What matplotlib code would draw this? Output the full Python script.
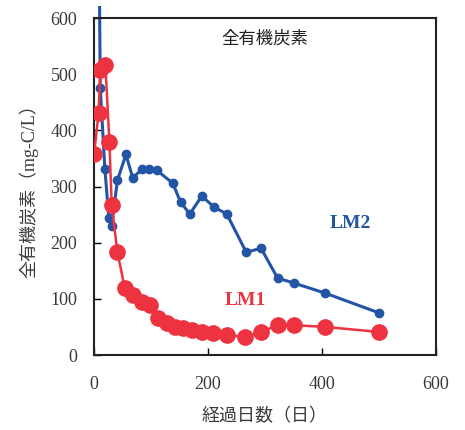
import matplotlib
matplotlib.use("Agg")
import matplotlib.pyplot as plt
from matplotlib.patches import Rectangle

# LM1 (red)
lm1_days = [0, 8, 11, 20, 27, 31, 41, 54, 68, 84, 98, 112, 128, 142, 156, 172, 189, 209, 233, 265, 293, 322, 351, 406, 500]
lm1_toc = [357, 430, 507, 516, 379, 267, 183, 119, 107, 94, 89, 66, 57, 50, 48, 44, 41, 39, 36, 32, 41, 53, 53, 50, 41]

# LM2 (blue)
lm2_days = [9, 11, 19, 26, 31, 41, 56, 68, 84, 96, 110, 138, 152, 168, 189, 211, 233, 267, 293, 322, 351, 406, 500]
lm2_toc = [700, 475, 332, 244, 229, 311, 357, 315, 331, 332, 329, 306, 272, 251, 283, 263, 251, 183, 190, 137, 128, 110, 75]

x_ticks = [0, 200, 400, 600]
y_ticks = [0, 100, 200, 300, 400, 500, 600]

serif = ['Liberation Serif', 'Noto Sans CJK JP']
cjk = ['Noto Sans CJK JP', 'Liberation Serif']

fig = plt.figure(figsize=(4.65, 4.30), dpi=100)
ax = fig.add_axes([0.2022, 0.1744, 0.7355, 0.7837])

red = '#EE3340'
blue = '#2354A6'
txt = '#3a3a3a'

clip = Rectangle((0, 0), 1, 1.035, transform=ax.transAxes, facecolor='none', edgecolor='none')
ax.add_patch(clip)

lb, = ax.plot(lm2_days, lm2_toc, color=blue, lw=2.2, marker='o', ms=6, zorder=2)
lb.set_clip_path(clip)
lr, = ax.plot(lm1_days, lm1_toc, color=red, lw=1.8, marker='o', ms=11, zorder=3)

ax.set_xlim(0, 600)
ax.set_ylim(0, 600)
ax.set_xticks(x_ticks)
ax.set_yticks(y_ticks)
ax.tick_params(direction='in', length=5, width=1, labelsize=13)
ax.tick_params(axis='y', pad=12)
ax.tick_params(axis='x', pad=15)
for lab in ax.get_xticklabels() + ax.get_yticklabels():
    lab.set_family(serif)
    lab.set_color(txt)
for s in ax.spines.values():
    s.set_linewidth(1.5)
    s.set_color('#222222')

ax.set_xlabel('経過日数（日）', family=cjk, fontsize=13, color=txt, labelpad=10)
ax.set_ylabel('全有機炭素（mg-C/L）', family=serif, fontsize=13, color=txt, labelpad=9)

ax.text(0.5, 0.94, '全有機炭素', transform=ax.transAxes, family=cjk, fontsize=12.5,
        ha='center', va='center', color='#222222')
ax.text(450, 235, 'LM2', family='Liberation Serif', fontsize=14, fontweight='bold',
        color=blue, ha='center', va='center')
ax.text(265, 97, 'LM1', family='Liberation Serif', fontsize=14, fontweight='bold',
        color=red, ha='center', va='center')

fig.savefig('out.png', dpi=100)
